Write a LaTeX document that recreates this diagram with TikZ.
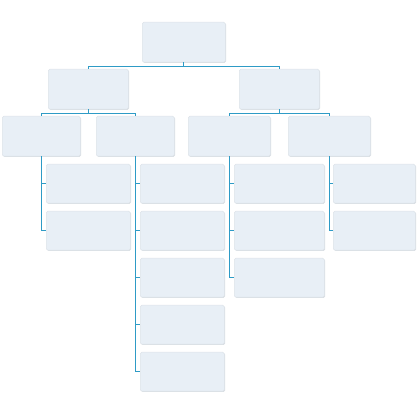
\documentclass[tikz,border=0pt]{standalone}
\usetikzlibrary{calc}
\definecolor{boxfill}{HTML}{E8EFF6}
\definecolor{boxedge}{HTML}{DDE3E9}
\definecolor{boxshadow}{HTML}{D9DEE3}
\definecolor{conn}{HTML}{2E9BC6}
\tikzset{
  box/.style={draw=boxedge, line width=0.5pt, fill=boxfill, rounded corners=1.5pt, anchor=north west, inner sep=0pt},
  link/.style={draw=conn, line width=1pt}
}
\newcommand{\bx}[5]{%
  \fill[boxshadow, rounded corners=1.5pt] (#2+1,-#3-1) rectangle (#4+1,-#5-1);
  \node[box, minimum width={(#4-#2)*1pt}, minimum height={(#5-#3)*1pt}] (#1) at (#2,-#3) {};}
\begin{document}
\begin{tikzpicture}[x=1pt,y=1pt]
\useasboundingbox (0,0) rectangle (418,-411);
% root and level 1
\bx{root}{142}{22}{225}{62}
\bx{la}{48}{69}{128}{109}
\bx{lb}{239}{69}{319}{109}
% level 2
\bx{a}{2}{116}{80}{156}
\bx{b}{96}{116}{174}{156}
\bx{c}{188}{116}{270}{156}
\bx{d}{288}{116}{370}{156}
% children of a
\bx{a1}{46}{164}{130}{203}
\bx{a2}{46}{211}{130}{250}
% children of b
\bx{b1}{140}{164}{224}{203}
\bx{b2}{140}{211}{224}{250}
\bx{b3}{140}{258}{224}{297}
\bx{b4}{140}{305}{224}{344}
\bx{b5}{140}{352}{224}{391}
% children of c
\bx{c1}{234}{164}{324}{203}
\bx{c2}{234}{211}{324}{250}
\bx{c3}{234}{258}{324}{297}
% children of d
\bx{d1}{333}{164}{415}{203}
\bx{d2}{333}{211}{415}{250}
% connectors
\coordinate (r1) at ($(root.south)+(0,-4)$);
\draw[link] (root.south) -- (r1);
\draw[link] (la.north) |- (r1) -| (lb.north);
\coordinate (q1) at ($(la.south)+(0,-4)$);
\draw[link] (la.south) -- (q1);
\draw[link] (a.north) |- (q1) -| (b.north);
\coordinate (q2) at ($(lb.south)+(0,-4)$);
\draw[link] (lb.south) -- (q2);
\draw[link] (c.north) |- (q2) -| (d.north);
% vertical spines
\draw[link] (a.south) |- (a2.west);
\draw[link] (a.south |- a1.west) -- (a1.west);
\draw[link] (b.south) |- (b5.west);
\foreach \n in {b1,b2,b3,b4} \draw[link] (b.south |- \n.west) -- (\n.west);
\draw[link] (c.south) |- (c3.west);
\foreach \n in {c1,c2} \draw[link] (c.south |- \n.west) -- (\n.west);
\draw[link] (d.south) |- (d2.west);
\draw[link] (d.south |- d1.west) -- (d1.west);
\end{tikzpicture}
\end{document}
